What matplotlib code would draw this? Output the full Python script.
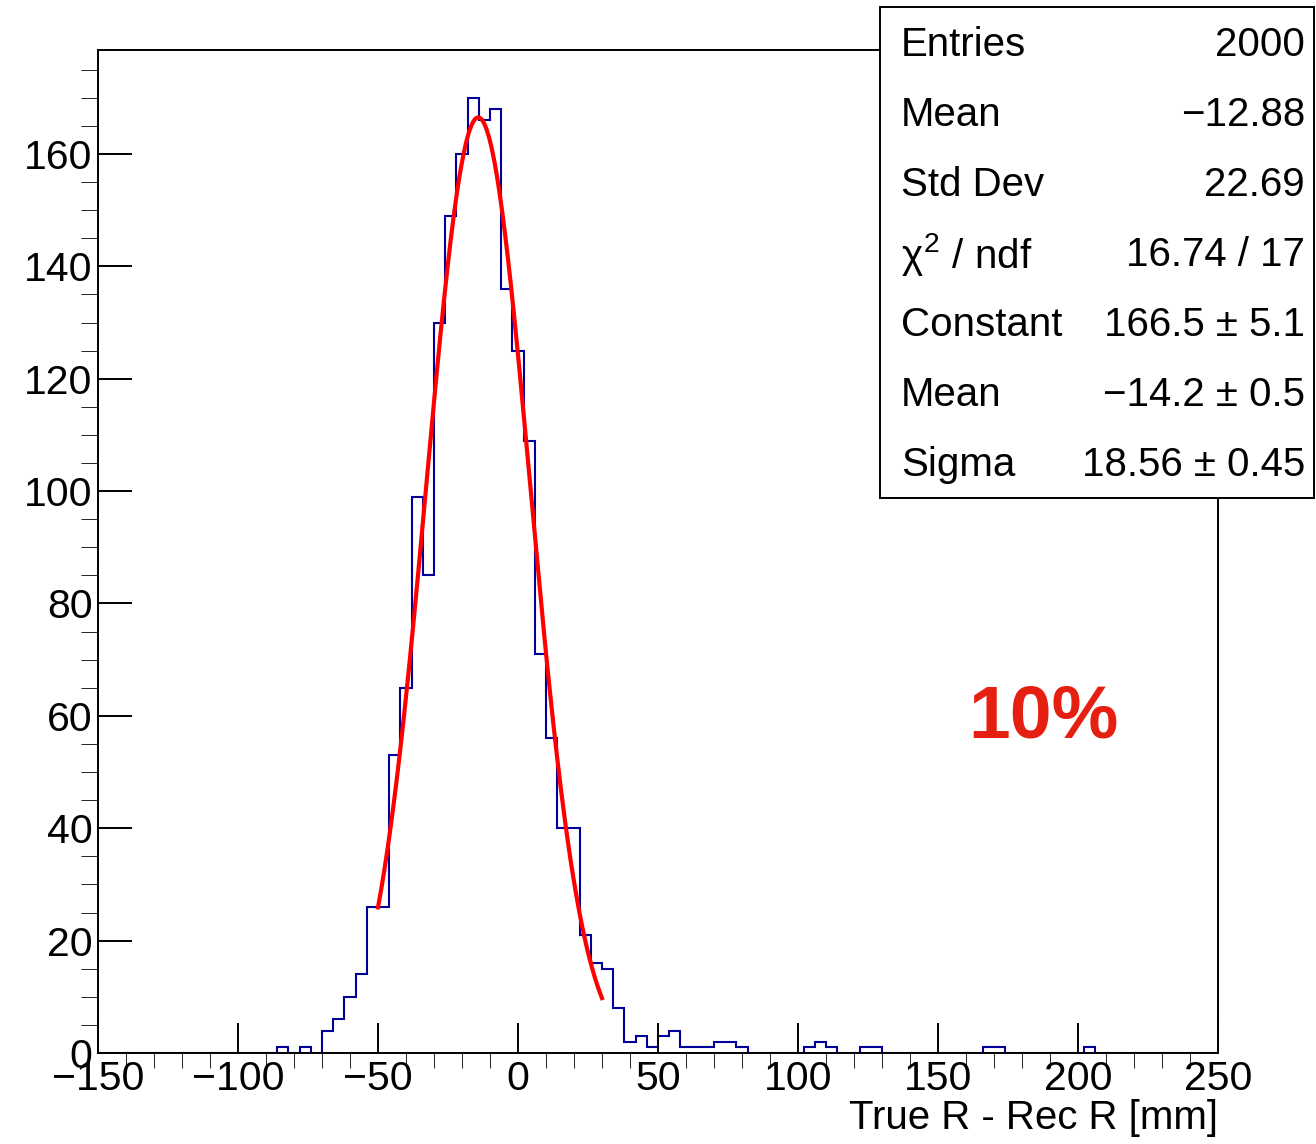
import numpy as np
import matplotlib
matplotlib.use("Agg")
from matplotlib import pyplot as plt
from matplotlib.patches import Rectangle

plt.rcParams['font.family'] = ['Liberation Sans', 'DejaVu Sans']
plt.rcParams['mathtext.fontset'] = 'custom'
plt.rcParams['mathtext.rm'] = 'Liberation Sans'
plt.rcParams['mathtext.it'] = 'Liberation Sans'

# histogram: 100 bins of 4 mm from -150 to 250
x_lo, x_hi, bin_w = -150, 250, 4
counts = [0, 0, 0, 0, 0, 0, 0, 0, 0, 0,
          0, 0, 0, 0, 0, 0, 1, 0, 1, 0,
          4, 6, 10, 14, 26, 26, 53, 65, 99, 85,
          130, 149, 160, 170, 166, 168, 136, 125, 109, 71,
          56, 40, 40, 21, 16, 15, 8, 2, 3, 1,
          3, 4, 1, 1, 1, 2, 2, 1, 0, 0,
          0, 0, 0, 1, 2, 1, 0, 0, 1, 1,
          0, 0, 0, 0, 0, 0, 0, 0, 0, 1,
          1, 0, 0, 0, 0, 0, 0, 0, 1, 0,
          0, 0, 0, 0, 0, 0, 0, 0, 0, 0]

# gaus fit result (shown in stats box)
fit_const, fit_mean, fit_sigma = 166.5, -14.2, 18.56
fit_range = (-50, 30)

stat_labels = ['Entries', 'Mean', 'Std Dev', r'$\chi^2$ / ndf', 'Constant', 'Mean', 'Sigma']
stat_values = ['2000', '\u221212.88', '22.69', '16.74 / 17', '166.5 \u00b1 5.1',
               '\u221214.2 \u00b1 0.5', '18.56 \u00b1 0.45']

W, H = 1316, 1144
fig = plt.figure(figsize=(W / 100, H / 100), dpi=100)
ax = fig.add_axes([98 / W, (H - 1053) / H, 1120 / W, (1053 - 50) / H])

edges = np.arange(x_lo, x_hi + bin_w, bin_w)
ax.stairs(counts, edges, color='#000099', lw=1.5, baseline=0)

xf = np.linspace(fit_range[0], fit_range[1], 300)
yf = fit_const * np.exp(-0.5 * ((xf - fit_mean) / fit_sigma) ** 2)
ax.plot(xf, yf, color='#ff0000', lw=3)

ax.set_xlim(x_lo, x_hi)
ax.set_ylim(0, 1.05 * max(counts))
ax.set_xticks(np.arange(-150, 251, 50))
ax.set_xticks(np.arange(-150, 251, 10), minor=True)
ax.set_yticks(np.arange(0, 161, 20))
ax.set_yticks(np.arange(0, 180, 5), minor=True)
ax.tick_params(axis='both', direction='in', width=1.4, labelsize=29.5)
ax.tick_params(axis='x', which='major', length=21.5, pad=5)
ax.tick_params(axis='x', which='minor', length=11)
ax.tick_params(axis='y', which='major', length=24.5, pad=4)
ax.tick_params(axis='y', which='minor', length=12)
for s in ax.spines.values():
    s.set_linewidth(1.4)

fig.text(1218 / W, 1 - 1118 / H, 'True R - Rec R [mm]', ha='right', va='center', fontsize=29)

fig.text(1043 / W, 1 - 718 / H, '10%', ha='center', va='center', fontsize=54,
         fontweight='bold', color='#e62010')

# stats box
box = Rectangle((880 / W, 1 - 498 / H), (1314 - 880) / W, (498 - 7) / H,
                transform=fig.transFigure, facecolor='white', edgecolor='black', lw=1.4, zorder=5)
fig.add_artist(box)
for i, (lab, val) in enumerate(zip(stat_labels, stat_values)):
    yc = 1 - (45 + 70 * i) / H
    fig.text(901 / W, yc, lab, ha='left', va='center', fontsize=29, zorder=6)
    fig.text(1305 / W, yc, val, ha='right', va='center', fontsize=29, zorder=6)

fig.savefig('out.png', dpi=100)
